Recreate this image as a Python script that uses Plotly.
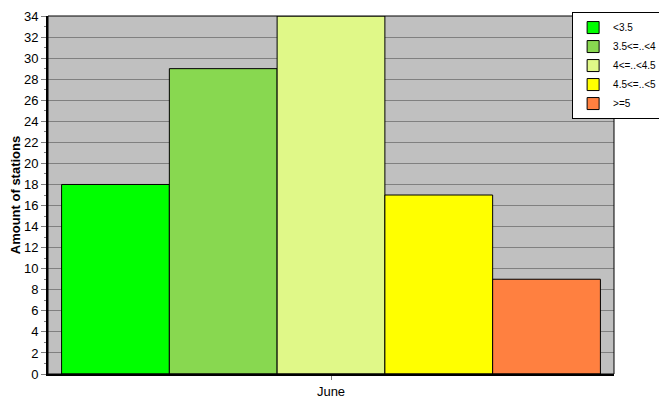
import plotly.graph_objects as go

# -------------------------
# Data
# -------------------------
month = ["June"]
classes = ["<3.5", "3.5<=..<4", "4<=..<4.5", "4.5<=..<5", ">=5"]
stations = [18, 29, 34, 17, 9]
colors = ["#00FF00", "#88D850", "#E0F888", "#FFFF00", "#FF8040"]

fig = go.Figure()

for name, val, col in zip(classes, stations, colors):
    fig.add_trace(go.Bar(
        x=month,
        y=[val],
        name=name,
        marker=dict(color=col, line=dict(color="black", width=1)),
    ))

# page body has an 8px margin, so the figure is a bit smaller than the window
fig.update_layout(
    width=659,
    height=407,
    barmode="group",
    bargap=0.048,
    bargroupgap=0,
    plot_bgcolor="#C0C0C0",
    paper_bgcolor="white",
    margin=dict(l=40, r=53, t=8, b=41, autoexpand=False),
    font=dict(family="Liberation Sans, Arial", size=13, color="black"),
    legend=dict(
        x=1.085, y=1.011, xanchor="right", yanchor="top",
        bordercolor="black", borderwidth=1, bgcolor="white",
        font=dict(size=10),
        itemwidth=30,
        tracegroupgap=0,
    ),
    showlegend=True,
)

fig.update_yaxes(
    range=[0, 34],
    dtick=2,
    showgrid=True, gridcolor="#808080", gridwidth=1,
    ticks="outside", ticklen=5, tickcolor="#808080",
    minor=dict(dtick=1, ticks="outside", ticklen=2, tickcolor="#808080", showgrid=False),
    showline=True, linecolor="black", linewidth=2,
    title=dict(text="<b>Amount of stations</b>", font=dict(size=13), standoff=4),
    zeroline=False,
)

fig.update_xaxes(
    ticks="outside", ticklen=4, tickcolor="#808080",
    showline=True, linecolor="black", linewidth=2,
)

# thin border on top and right of plot area
fig.add_shape(type="rect", xref="paper", yref="paper", x0=0, y0=0, x1=1, y1=1,
              line=dict(color="black", width=1), layer="above")

fig.write_html("out.html")
